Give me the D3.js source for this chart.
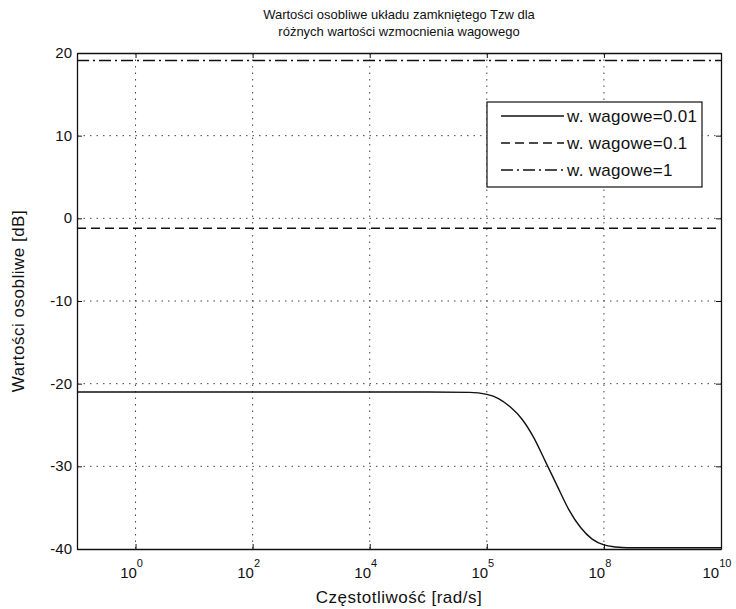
<!DOCTYPE html>
<html>
<head>
<meta charset="utf-8">
<script src="https://cdn.jsdelivr.net/npm/d3@7/dist/d3.min.js"></script>
<style>
  body { margin: 0; background: #fff; }
  text { font-family: "Liberation Sans", Arial, sans-serif; fill: #111; }
</style>
</head>
<body>
<script>

// data
const xTicks = [1e0, 1e2, 1e4, 1e6, 1e8, 1e10];
const xTickExp = ["0", "2", "4", "5", "8", "10"];   // as printed on the original
const yTicks = [-40, -30, -20, -10, 0, 10, 20];

const freq001 = [1e-1, 1e5, 5e5, 1e6, 1.58e6, 2.5e6, 4e6, 6.3e6, 1e7, 1.6e7, 2.5e7, 4e7, 6.3e7, 1e8, 1.6e8, 2.5e8, 1e10];
const sv001   = [-21, -21, -21.05, -21.3, -21.8, -22.8, -24.3, -26.5, -29.4, -32.4, -35.2, -37.4, -38.8, -39.5, -39.75, -39.85, -39.85];
const freq01  = [1e-1, 1e10];
const sv01    = [-1.2, -1.2];
const freq1   = [1e-1, 1e10];
const sv1     = [19.1, 19.1];

const seriesNames = ["w. wagowe=0.01", "w. wagowe=0.1", "w. wagowe=1"];
const dashes = [null, "9,5", "12,4,2,4"];

const W = 736, H = 609;
const margin = {left: 77, right: 15, top: 53, bottom: 60};
const width = W - margin.left - margin.right;
const height = H - margin.top - margin.bottom;

const svg = d3.select("body").append("svg")
  .attr("width", W).attr("height", H);

const x = d3.scaleLog().domain([1e-1, 1e10]).range([0, width]);
const y = d3.scaleLinear().domain([-40, 20]).range([height, 0]);

const chart = svg.append("g")
  .attr("transform", `translate(${margin.left},${margin.top})`);

// grid
chart.append("g").selectAll("line")
  .data(xTicks.filter(d => d < 1e10))
  .enter().append("line")
  .attr("x1", d => x(d)).attr("x2", d => x(d))
  .attr("y1", 0).attr("y2", height)
  .attr("stroke", "#444").attr("stroke-width", 1)
  .attr("stroke-dasharray", "1.5,5");

chart.append("g").selectAll("line")
  .data(yTicks.filter(d => d > -40 && d < 20))
  .enter().append("line")
  .attr("x1", 0).attr("x2", width)
  .attr("y1", d => y(d)).attr("y2", d => y(d))
  .attr("stroke", "#444").attr("stroke-width", 1)
  .attr("stroke-dasharray", "1.5,5");

// axes with inward ticks on all sides
const tickLen = 5;
chart.append("g").attr("transform", `translate(0,${height})`)
  .call(d3.axisBottom(x).tickValues(xTicks).tickSizeInner(-tickLen).tickSizeOuter(0).tickFormat(""));
chart.append("g")
  .call(d3.axisTop(x).tickValues(xTicks).tickSizeInner(-tickLen).tickSizeOuter(0).tickFormat(""));
chart.append("g")
  .call(d3.axisLeft(y).tickValues(yTicks).tickSizeInner(-tickLen).tickSizeOuter(0).tickFormat(""));
chart.append("g").attr("transform", `translate(${width},0)`)
  .call(d3.axisRight(y).tickValues(yTicks).tickSizeInner(-tickLen).tickSizeOuter(0).tickFormat(""));
chart.selectAll(".domain").attr("stroke", "#111").attr("stroke-width", 1.3);
chart.selectAll(".tick line").attr("stroke", "#111");

// tick labels
const xl = chart.append("g").selectAll("text")
  .data(xTicks).enter().append("text")
  .attr("x", (d, i) => x(d) - 4)
  .attr("y", height + 29)
  .attr("text-anchor", "middle")
  .style("font-size", "15px");
xl.append("tspan").text("10");
xl.append("tspan").attr("dy", -11).style("font-size", "11px").text((d, i) => xTickExp[i]);

chart.append("g").selectAll("text")
  .data(yTicks).enter().append("text")
  .attr("x", -5)
  .attr("y", d => y(d) + 5)
  .attr("text-anchor", "end")
  .style("font-size", "15px")
  .text(d => d);

// lines
const line = d3.line()
  .x(d => x(d[0])).y(d => y(d[1]))
  .curve(d3.curveMonotoneX);

const series = [
  d3.zip(freq001, sv001),
  d3.zip(freq01, sv01),
  d3.zip(freq1, sv1)
];

chart.append("g").selectAll("path")
  .data(series).enter().append("path")
  .attr("d", line)
  .attr("fill", "none")
  .attr("stroke", "#111")
  .attr("stroke-width", (d, i) => i === 0 ? 1.4 : 1.5)
  .attr("stroke-dasharray", (d, i) => dashes[i]);

// legend
const lg = chart.append("g").attr("transform", `translate(${487 - margin.left},${102 - margin.top})`);
lg.append("rect").attr("width", 215).attr("height", 85)
  .attr("fill", "#fff").attr("stroke", "#111").attr("stroke-width", 1.2);
const rows = lg.selectAll("g.row").data(seriesNames).enter().append("g")
  .attr("transform", (d, i) => `translate(0,${14 + i * 27})`);
rows.append("line")
  .attr("x1", 14).attr("x2", 77).attr("y1", 0).attr("y2", 0)
  .attr("stroke", "#111").attr("stroke-width", 1.3)
  .attr("stroke-dasharray", (d, i) => dashes[i]);
rows.append("text")
  .attr("x", 80).attr("y", 6)
  .style("font-size", "17px").style("letter-spacing", "0.3px")
  .text(d => d);

// title and labels
svg.append("text")
  .attr("x", margin.left + width / 2).attr("y", 19)
  .attr("text-anchor", "middle").style("font-size", "13px")
  .text("Wartości osobliwe układu zamkniętego Tzw dla");
svg.append("text")
  .attr("x", margin.left + width / 2).attr("y", 36)
  .attr("text-anchor", "middle").style("font-size", "13px")
  .text("różnych wartości wzmocnienia wagowego");
svg.append("text")
  .attr("x", margin.left + width / 2).attr("y", 603)
  .attr("text-anchor", "middle").style("font-size", "17px").style("letter-spacing", "0.5px")
  .text("Częstotliwość [rad/s]");
svg.append("text")
  .attr("transform", `translate(24,${margin.top + height / 2}) rotate(-90)`)
  .attr("text-anchor", "middle").style("font-size", "17px").style("letter-spacing", "0.5px")
  .text("Wartości osobliwe [dB]");

</script>
</body>
</html>
